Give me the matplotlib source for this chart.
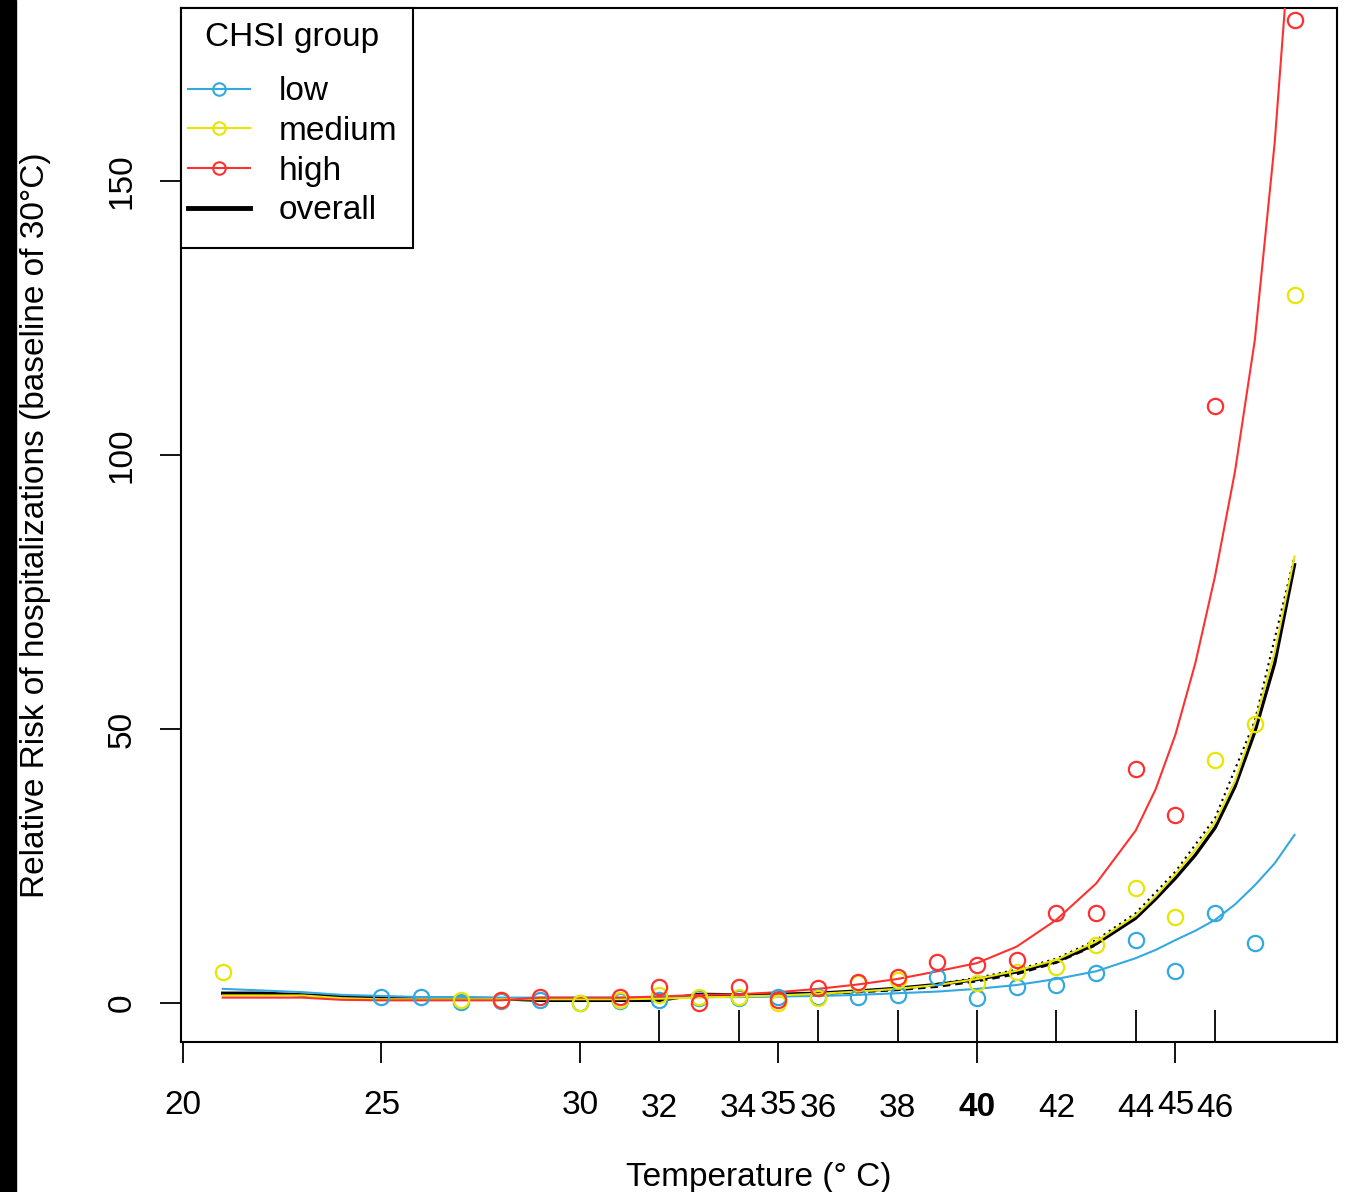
import numpy as np
import matplotlib
matplotlib.use("Agg")
import matplotlib.pyplot as plt
from matplotlib.patches import Rectangle
from matplotlib.lines import Line2D

plt.rcParams['font.family'] = ['Liberation Sans', 'DejaVu Sans']

# observed relative risks by temperature (nan = no point drawn)
temps = list(range(21, 49))
low_pts = [np.nan, np.nan, np.nan, np.nan, 1.1, 1.1, 0.2, 0.4, 0.6, 0.0,
           0.4, 0.6, 0.9, 1.0, 1.1, 1.2, 1.1, 1.5, 4.8, 0.9,
           2.9, 3.3, 5.5, 11.5, 5.8, 16.4, 10.9, np.nan]
med_pts = [5.7, np.nan, np.nan, np.nan, np.nan, np.nan, 0.6, 0.5, np.nan, 0.0,
           0.6, 1.5, 1.1, 1.2, 0.0, 0.9, 3.6, 4.2, np.nan, 3.6,
           5.6, 6.6, 10.6, 21.0, 15.7, 44.3, 51.0, 129.2]
high_pts = [np.nan, np.nan, np.nan, np.nan, np.nan, np.nan, np.nan, 0.5, 1.1, np.nan,
            1.1, 2.9, 0.0, 2.9, 0.5, 2.7, 3.8, 4.8, 7.5, 6.9,
            7.8, 16.4, 16.4, 42.7, 34.3, 109.0, np.nan, 179.4]

# fitted curves
curve_temps = [21, 22, 23, 24, 25, 26, 27, 28, 29, 30, 31, 32, 33, 34, 35, 36,
               37, 38, 39, 40, 41, 42, 43, 44, 44.5, 45, 45.5, 46, 46.5, 47, 47.5, 48]
low_fit = [2.6, 2.3, 2.0, 1.5, 1.3, 1.1, 1.1, 1.0, 1.0, 1.0, 1.0, 1.0, 1.1, 1.1, 1.2, 1.3,
           1.5, 1.8, 2.1, 2.6, 3.3, 4.4, 5.8, 8.2, 9.7, 11.5, 13.2, 15.2, 18.0, 21.5, 25.5, 30.7]
med_fit = [1.4, 1.4, 1.4, 0.9, 0.7, 0.7, 0.7, 0.7, 0.7, 0.7, 0.7, 0.8, 1.0, 1.2, 1.4, 1.7,
           2.1, 2.6, 3.3, 4.4, 5.9, 7.9, 11.2, 16.0, 19.5, 23.5, 28.0, 33.0, 40.5, 51.0, 64.0, 81.5]
high_fit = [1.0, 1.0, 1.0, 0.6, 0.5, 0.5, 0.5, 0.5, 1.0, 1.0, 1.0, 1.2, 1.5, 1.6, 2.0, 2.6,
            3.4, 4.4, 5.8, 7.3, 10.3, 15.2, 21.8, 31.5, 39.0, 49.0, 62.0, 78.0, 97.0, 121.0, 157.0, 205.0]
overall_fit = [1.8, 1.8, 1.5, 1.2, 1.0, 0.9, 0.9, 0.8, 0.5, 0.5, 0.5, 0.5, 1.6, 1.5, 1.6, 1.8,
               2.2, 2.7, 3.4, 4.3, 5.7, 7.6, 10.8, 15.5, 19.0, 22.8, 27.0, 32.0, 39.5, 49.5, 62.0, 80.0]
dash_temps = [36, 37, 38, 39, 40, 41, 42, 43]
overall_dash = [1.7, 2.0, 2.4, 3.0, 4.0, 5.3, 7.4, 10.6]
dot_temps = [39, 40, 41, 42, 43, 44, 45, 46, 47, 48]
overall_dot = [3.5, 4.6, 6.1, 8.1, 11.5, 16.4, 24.0, 33.8, 51.5, 81.5]

blue = '#33A9E0'
yellow = '#E6E600'
red = '#FF3030'

fig = plt.figure(figsize=(13.47, 11.92), dpi=100)
fig.patches.append(Rectangle((0, 0), 16 / 1347, 1, transform=fig.transFigure,
                             color='black', zorder=0))
ax = fig.add_axes([181 / 1347, 1 - 1042 / 1192, 1156 / 1347, 1034 / 1192])

ax.plot(curve_temps, overall_fit, color='black', lw=2.4, zorder=2)
ax.plot(dash_temps, overall_dash, color='black', lw=1.8, ls=(0, (3, 2)), zorder=2)
ax.plot(dot_temps, overall_dot, color='black', lw=1.5, ls=(0, (1, 2)), zorder=2)
ax.plot(curve_temps, low_fit, color=blue, lw=1.5, zorder=3)
ax.plot(curve_temps, med_fit, color=yellow, lw=1.5, zorder=3)
ax.plot(curve_temps, high_fit, color=red, lw=1.5, zorder=3)

for pts, col in [(low_pts, blue), (med_pts, yellow), (high_pts, red)]:
    ax.plot(temps, pts, ls='none', marker='o', ms=11, mfc='none', mec=col, mew=1.6, zorder=4)

ax.set_xlim(19.95, 49.07)
ax.set_ylim(-7.1, 181.6)

# two sets of x ticks, as in the original (outer axis plus inner ticks)
ax.xaxis.remove_overlapping_locs = False
ax.set_xticks([20, 25, 30, 35, 40, 45])
ax.set_xticks([32, 34, 36, 38, 40, 42, 44, 46], minor=True)
ax.set_xticklabels(['20', '25', '30', '35', '40', '45'])
ax.set_xticklabels(['32', '34', '36', '38', '', '42', '44', '46'], minor=True)
ax.tick_params(axis='x', which='major', direction='out', length=15, width=1.3,
               pad=19.5, labelsize=24)
ax.tick_params(axis='x', which='minor', direction='in', length=23, width=1.3,
               pad=36.5, labelsize=24)
# "40" is printed by both tick sets in the original, so it looks bold
for lab in ax.get_xticklabels():
    if lab.get_text() == '40':
        lab.set_fontweight('bold')
        lab.set_y(-0.002)
ax.set_yticks([0, 50, 100, 150])
ax.tick_params(axis='y', direction='out', length=15, width=1.3, pad=16, labelsize=24)
for lab in ax.get_yticklabels():
    lab.set_rotation(90)
    lab.set_va('center')

for s in ax.spines.values():
    s.set_linewidth(1.5)

ax.set_xlabel('Temperature (° C)', fontsize=24, labelpad=27.5)
ax.set_ylabel('Relative Risk of hospitalizations (baseline of 30°C)', fontsize=24, labelpad=40)

# legend frame drawn separately to match the R layout
ax.add_patch(Rectangle((0, 1 - 240 / 1034), 232 / 1156, 240 / 1034, transform=ax.transAxes,
                       facecolor='white', edgecolor='black', lw=1.5, zorder=6, clip_on=False))
handles = [Line2D([], [], color=blue, lw=1.5, marker='o', ms=9, mfc='none', mew=1.5),
           Line2D([], [], color=yellow, lw=1.5, marker='o', ms=9, mfc='none', mew=1.5),
           Line2D([], [], color=red, lw=1.5, marker='o', ms=9, mfc='none', mew=1.5),
           Line2D([], [], color='black', lw=3.5)]
leg = ax.legend(handles, ['low', 'medium', 'high', 'overall'], title='CHSI group',
                loc='upper left', bbox_to_anchor=(0, 1 - 7 / 1034), borderaxespad=0,
                fontsize=24, title_fontsize=24, frameon=False,
                handlelength=1.86, handletextpad=0.87,
                labelspacing=0.26, borderpad=0.2)
leg.set_zorder(7)
leg._legend_box.sep = 17

fig.savefig('out.png', dpi=100)
